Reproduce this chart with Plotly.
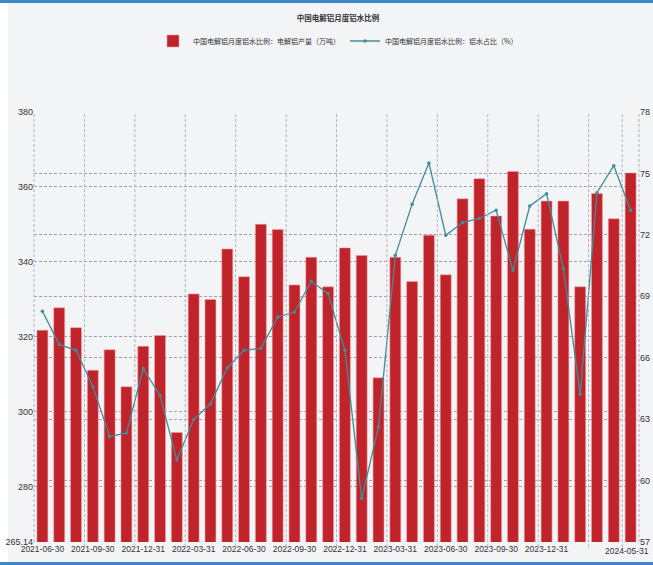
import pandas as pd
import plotly.graph_objects as go

# ---------------- data ----------------
dates = [d.strftime("%Y-%m-%d") for d in pd.date_range("2021-06-30", periods=36, freq="ME")]

production = [321.7, 327.7, 322.4, 311.0, 316.5, 306.6, 317.4, 320.3, 294.4, 331.4,
              329.9, 343.4, 336.0, 350.0, 348.6, 333.8, 341.2, 333.3, 343.7, 341.7,
              309.0, 341.2, 334.7, 347.1, 336.5, 356.8, 362.2, 352.2, 364.1, 348.7,
              356.2, 356.2, 333.3, 358.2, 351.5, 363.7]

ratio = [68.27, 66.65, 66.36, 64.6, 62.16, 62.32, 65.47, 64.16, 61.0, 62.98,
         63.75, 65.5, 66.36, 66.46, 67.99, 68.23, 69.73, 69.13, 66.36, 59.12,
         62.62, 71.0, 73.5, 75.51, 71.98, 72.6, 72.8, 73.2, 70.27, 73.41,
         74.01, 70.35, 64.21, 74.06, 75.38, 73.2]

x_tick_labels = ["2021-06-30", "2021-09-30", "2021-12-31", "2022-03-31", "2022-06-30",
                 "2022-09-30", "2022-12-31", "2023-03-31", "2023-06-30", "2023-09-30",
                 "2023-12-31"]
last_x_label = "2024-05-31"
left_tickvals = [265.14, 280, 300, 320, 340, 360, 380]
left_ticktext = ["265.14", "280", "300", "320", "340", "360", "380"]
right_tickvals = [57, 60, 63, 66, 69, 72, 75, 78]

title = "中国电解铝月度铝水比例"
bar_name = "中国电解铝月度铝水比例：电解铝产量（万吨）"
line_name = "中国电解铝月度铝水比例：铝水占比（%）"

# ---------------- style ----------------
BG = "#f3f4f6"
GRID = "#9da1b5"
VGRID = "#aeb2c2"
BAR = "#c1232b"
LINE = "#3f8d98"
FONT = "Noto Sans CJK SC"
TICKFONT = "Liberation Sans Narrow, Liberation Sans, sans-serif"

W, H, L, R, T, B = 653, 565, 34, 14, 112, 23
pw, ph = W - L - R, H - T - B


def px(xs):  # screen pixel -> paper x
    return (xs - L) / pw


def py(ys):  # screen pixel -> paper y
    return 1 - (ys - T) / ph


fig = go.Figure()
fig.add_trace(go.Bar(
    x=dates, y=production, name=bar_name, yaxis="y",
    marker=dict(color=BAR, line=dict(color="rgba(240,160,165,0.9)", width=0.6)),
))
fig.add_trace(go.Scatter(
    x=dates, y=ratio, name=line_name, yaxis="y2", mode="lines+markers",
    line=dict(color=LINE, width=1.3), marker=dict(color=LINE, size=3.5),
))

shapes = []
# vertical dashed gridlines at category boundaries
vlines = [2.5 + 3 * k for k in range(11)] + [34.5]
for v in vlines:
    shapes.append(dict(type="line", xref="x", yref="paper", x0=v, x1=v, y0=-0.012, y1=1,
                       line=dict(color=VGRID, width=1, dash="3px,2px"), layer="above"))
# dashed axis lines (left / right)
for xp in (0, 1):
    shapes.append(dict(type="line", xref="paper", yref="paper", x0=xp, x1=xp, y0=0, y1=1,
                       line=dict(color=VGRID, width=1, dash="3px,2px"), layer="above"))
# page decorations: white left strip, blue top / bottom rules
shapes.append(dict(type="rect", xref="paper", yref="paper", x0=px(0), x1=px(8), y0=py(565), y1=py(0),
                   fillcolor="white", line=dict(width=0), layer="below"))
shapes.append(dict(type="rect", xref="paper", yref="paper", x0=px(0), x1=px(653), y0=py(3), y1=py(0),
                   fillcolor="#3d88c9", line=dict(width=0), layer="above"))
shapes.append(dict(type="rect", xref="paper", yref="paper", x0=px(0), x1=px(653), y0=py(565), y1=py(562),
                   fillcolor="#3d88c9", line=dict(width=0), layer="above"))

fig.update_layout(
    width=W, height=H,
    margin=dict(l=L, r=R, t=T, b=B, pad=0, autoexpand=False),
    paper_bgcolor=BG, plot_bgcolor=BG,
    font=dict(family=FONT, size=9, color="#333333"),
    title=dict(text="<b>" + title + "</b>", x=338 / W, xref="container", xanchor="center",
               y=1 - 18 / H, yref="container", yanchor="middle",
               font=dict(family=FONT, size=7.5, color="#333333")),
    legend=dict(orientation="h", x=px(338), xanchor="center", y=py(41), yanchor="middle",
                font=dict(family=FONT, size=7, color="#333333"), bgcolor="rgba(0,0,0,0)",
                itemwidth=30, tracegroupgap=0),
    bargap=0.35,
    showlegend=True,
    xaxis=dict(type="category", categoryorder="array", categoryarray=dates, automargin=False,
               range=[-0.5, 35.5], tickmode="array", tickvals=x_tick_labels, ticktext=x_tick_labels,
               tickangle=0, showgrid=False, zeroline=False, showline=False, ticks="",
               tickfont=dict(family=TICKFONT, size=8.5, color="#333333")),
    yaxis=dict(range=[265.14, 380], tickmode="array", tickvals=left_tickvals, ticktext=left_ticktext,
               automargin=False,
               showgrid=True, gridcolor=GRID, griddash="3px,2px", gridwidth=1,
               zeroline=False, showline=False, ticks="",
               tickfont=dict(family=TICKFONT, size=9, color="#333333")),
    yaxis2=dict(range=[57, 78], tickmode="array", tickvals=right_tickvals, overlaying="y", side="right",
                automargin=False,
                showgrid=True, gridcolor=GRID, griddash="3px,2px", gridwidth=1,
                zeroline=False, showline=False, ticks="",
                tickfont=dict(family=TICKFONT, size=9, color="#333333")),
    shapes=shapes,
    annotations=[dict(text=last_x_label, xref="paper", yref="paper", x=px(651), xanchor="right",
                      y=py(551), yanchor="middle", showarrow=False,
                      font=dict(family=TICKFONT, size=8.5, color="#333333"))],
)

# remove the default page margin so the 653x565 figure fills the window exactly
fig.write_html("out.html",
               config={"displayModeBar": False},
               post_script="document.body.style.margin='0';document.body.style.overflow='hidden';")
